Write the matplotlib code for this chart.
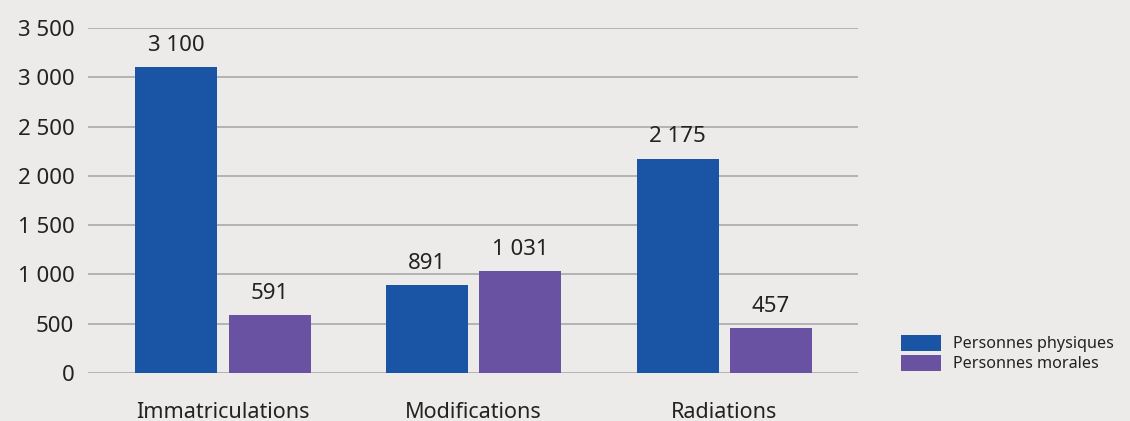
import matplotlib
matplotlib.use('Agg')
from matplotlib import pyplot as plt
from matplotlib.ticker import FuncFormatter
import numpy as np

categories = ['Immatriculations', 'Modifications', 'Radiations']
physiques = [3100, 891, 2175]
morales = [591, 1031, 457]
series_names = ['Personnes physiques', 'Personnes morales']

bg = '#ecebe9'
blue = '#1a54a4'
purple = '#6852a1'
grid = '#aaaaaa'
txt = '#222222'

plt.rcParams['font.family'] = ['Noto Sans', 'DejaVu Sans']


def fmt(v, pos=None):
    return f'{int(v):,}'.replace(',', ' ')


fig = plt.figure(figsize=(11.3, 4.21), dpi=100, facecolor=bg)
ax = fig.add_axes([0.078, 0.114, 0.681, 0.8195], facecolor=bg)

x = np.arange(len(categories))
w = 0.328
b1 = ax.bar(x - 0.186, physiques, w, color=blue, zorder=3, label=series_names[0])
b2 = ax.bar(x + 0.186, morales, w, color=purple, zorder=3, label=series_names[1])

for bars, vals in [(b1, physiques), (b2, morales)]:
    for rect, v in zip(bars, vals):
        ax.annotate(fmt(v), (rect.get_x() + rect.get_width() / 2, v),
                    xytext=(0, 8), textcoords='offset points',
                    ha='center', va='bottom', fontsize=16, color=txt)

ax.set_ylim(0, 3500)
ax.set_xlim(-0.538, 2.532)
ax.set_yticks(range(0, 3501, 500))
ax.yaxis.set_major_formatter(FuncFormatter(fmt))
ax.yaxis.grid(True, color=grid, linewidth=1.2, zorder=0)
ax.set_xticks(x)
ax.set_xticklabels(categories)
ax.tick_params(axis='both', length=0, colors=txt)
ax.tick_params(axis='x', pad=21, labelsize=15.5)
ax.tick_params(axis='y', pad=10, labelsize=16)
for s in ax.spines.values():
    s.set_visible(False)

leg = fig.legend(handles=[b1, b2], labels=series_names, loc='lower left',
                 bbox_to_anchor=(0.7915, 0.1), frameon=False, fontsize=11.6,
                 handlelength=2.5, handleheight=1.2, handletextpad=0.75,
                 labelspacing=0.15, borderaxespad=0)
for t in leg.get_texts():
    t.set_color(txt)

fig.savefig('out.png', dpi=100, facecolor=bg)
